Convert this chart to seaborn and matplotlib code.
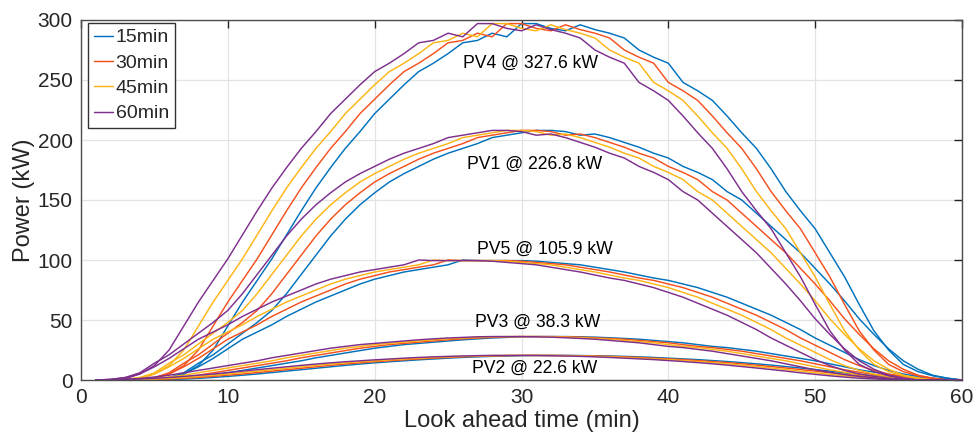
import matplotlib
matplotlib.use("Agg")
import matplotlib.pyplot as plt
import pandas as pd
import seaborn as sns

# ---------------- data ----------------
t = list(range(1, 61))
horizons = ["15min", "30min", "45min", "60min"]
colors = ["#0072BD", "#F4511E", "#FDB515", "#7E2F8E"]
plant_names = ["PV1", "PV2", "PV3", "PV4", "PV5"]
plant_caps = ["226.8", "22.6", "38.3", "327.6", "105.9"]
label_x = [30.9, 30.9, 31.1, 30.6, 31.6]
label_y = [180, 10, 48, 263.5, 109]

pv4_15 = [0,0,0,0,0.5,2,5,12,25,45, 65,83,101,121,141,160,177,193,207,222, 234,246,257,264,272,281,283,289,286,297, 297,293,291,296,292,289,285,275,269,264, 248,241,233,220,206,193,176,157,141,126, 106,86,63,41,25,13,7,3.5,1.5,0]
pv4_30 = [0,0,0,0.5,2,5,12,25,45,65, 83,101,121,141,160,177,193,207,222,234, 246,257,264,272,281,283,289,286,297,297, 293,291,296,292,289,285,275,269,264,248, 241,233,220,206,193,176,157,141,126,106, 86,63,41,25,13,7,3.5,1.5,0,0]
pv4_45 = [0,0,0.5,2,5,12,25,45,65,83, 101,121,141,160,177,193,207,222,234,246, 257,264,272,281,283,289,286,297,297,293, 291,296,292,289,285,275,269,264,248,241, 233,220,206,193,176,157,141,126,106,86, 63,41,25,13,7,3.5,1.5,0,0,0]
pv4_60 = [0,0.5,2,5,12,25,45,65,83,101, 121,141,160,177,193,207,222,234,246,257, 264,272,281,283,289,286,297,297,293,291, 296,292,289,285,275,269,264,248,241,233, 220,206,193,176,157,141,126,106,86,63, 41,25,13,7,3.5,1.5,0,0,0,0]

pv1_15 = [0,0,0,0,0.5,2,6,14,21,30, 39,48,58,72,88,104,120,134,146,156, 165,172,178,184,189,193,197,202,204,206, 208,208,207,204,205,202,198,194,189,185, 178,173,167,157,150,139,128,117,106,93, 80,66,51,38,26,16,9,4,1.5,0]
pv1_30 = [0,0,0,0.5,2,6,14,21,30,39, 48,58,72,88,104,120,134,146,156,165, 172,178,184,189,193,197,202,204,206,208, 208,207,204,205,202,198,194,189,185,178, 173,167,157,150,139,128,117,106,93,80, 66,51,38,26,16,9,4,1.5,0,0]
pv1_45 = [0,0,0.5,2,6,14,21,30,39,48, 58,72,88,104,120,134,146,156,165,172, 178,184,189,193,197,202,204,206,208,208, 207,204,205,202,198,194,189,185,178,173, 167,157,150,139,128,117,106,93,80,66, 51,38,26,16,9,4,1.5,0,0,0]
pv1_60 = [0,0.5,2,6,14,21,30,39,48,58, 72,88,104,120,134,146,156,165,172,178, 184,189,193,197,202,204,206,208,208,207, 204,205,202,198,194,189,185,178,173,167, 157,150,139,128,117,106,93,80,66,51, 38,26,16,9,4,1.5,0,0,0,0]

pv5_15 = [0,0,0,0,0.3,1,5,11,18,26, 34,40,46,53,59,65,70,75,80,84, 87,90,92,94,96,100,99.5,99.5,99.5,99.5, 99,98,97,96,94,92,90,87.5,85,83, 80,77,73,69,64,59,54,48,42,35, 29,23,17,12,8,5,3,1.5,0.7,0]
pv5_30 = [0,0,0,0.3,1,5,11,18,26,34, 40,46,53,59,65,70,75,80,84,87, 90,92,94,96,100,99.5,99.5,99.5,99.5,99, 98,97,96,94,92,90,87.5,85,83,80, 77,73,69,64,59,54,48,42,35,29, 23,17,12,8,5,3,1.5,0.7,0,0]
pv5_45 = [0,0,0.3,1,5,11,18,26,34,40, 46,53,59,65,70,75,80,84,87,90, 92,94,96,100,99.5,99.5,99.5,99.5,99,98, 97,96,94,92,90,87.5,85,83,80,77, 73,69,64,59,54,48,42,35,29,23, 17,12,8,5,3,1.5,0.7,0,0,0]
pv5_60 = [0,0.3,1,5,11,18,26,34,40,46, 53,59,65,70,75,80,84,87,90,92, 94,96,100,99.5,99.5,99.5,99.5,99,98,97, 96,94,92,90,87.5,85,83,80,77,73, 69,64,59,54,48,42,35,29,23,17, 12,8,5,3,1.5,0.7,0,0,0,0]

pv3_15 = [0,0,0,0,0.2,0.6,1.3,2.5,4,6, 8,10,12,14,16,18.5,20.5,22.5,24.5,26.5, 28,29.5,30.5,31.5,32.5,33.5,34.3,35,35.5,36, 36.2,36.2,36.2,36,35.7,35.2,34.6,34,33,32, 31,29.5,28,27,25.5,24,22,20,18,16, 13.5,11,8.5,6.5,4.5,3,1.8,1,0.4,0]
pv3_30 = [0,0,0,0.2,0.6,1.3,2.5,4,6,8, 10,12,14,16,18.5,20.5,22.5,24.5,26.5,28, 29.5,30.5,31.5,32.5,33.5,34.3,35,35.5,36,36.2, 36.2,36.2,36,35.7,35.2,34.6,34,33,32,31, 29.5,28,27,25.5,24,22,20,18,16,13.5, 11,8.5,6.5,4.5,3,1.8,1,0.4,0,0]
pv3_45 = [0,0,0.2,0.6,1.3,2.5,4,6,8,10, 12,14,16,18.5,20.5,22.5,24.5,26.5,28,29.5, 30.5,31.5,32.5,33.5,34.3,35,35.5,36,36.2,36.2, 36.2,36,35.7,35.2,34.6,34,33,32,31,29.5, 28,27,25.5,24,22,20,18,16,13.5,11, 8.5,6.5,4.5,3,1.8,1,0.4,0,0,0]
pv3_60 = [0,0.2,0.6,1.3,2.5,4,6,8,10,12, 14,16,18.5,20.5,22.5,24.5,26.5,28,29.5,30.5, 31.5,32.5,33.5,34.3,35,35.5,36,36.2,36.2,36.2, 36,35.7,35.2,34.6,34,33,32,31,29.5,28, 27,25.5,24,22,20,18,16,13.5,11,8.5, 6.5,4.5,3,1.8,1,0.4,0,0,0,0]

pv2_15 = [0,0,0,0,0.1,0.4,0.8,1.4,2.1,3, 4,5,6.2,7.4,8.6,9.8,11,12.2,13.3,14.3, 15.2,16,16.8,17.5,18.2,18.8,19.3,19.7,20,20.3, 20.5,20.5,20.5,20.4,20.2,20,19.7,19.3,18.8,18.2, 17.6,17,16.2,15.4,14.5,13.5,12.4,11.2,10,8.7, 7.4,6,4.7,3.5,2.4,1.5,0.9,0.4,0.1,0]
pv2_30 = [0,0,0,0.1,0.4,0.8,1.4,2.1,3,4, 5,6.2,7.4,8.6,9.8,11,12.2,13.3,14.3,15.2, 16,16.8,17.5,18.2,18.8,19.3,19.7,20,20.3,20.5, 20.5,20.5,20.4,20.2,20,19.7,19.3,18.8,18.2,17.6, 17,16.2,15.4,14.5,13.5,12.4,11.2,10,8.7,7.4, 6,4.7,3.5,2.4,1.5,0.9,0.4,0.1,0,0]
pv2_45 = [0,0,0.1,0.4,0.8,1.4,2.1,3,4,5, 6.2,7.4,8.6,9.8,11,12.2,13.3,14.3,15.2,16, 16.8,17.5,18.2,18.8,19.3,19.7,20,20.3,20.5,20.5, 20.5,20.4,20.2,20,19.7,19.3,18.8,18.2,17.6,17, 16.2,15.4,14.5,13.5,12.4,11.2,10,8.7,7.4,6, 4.7,3.5,2.4,1.5,0.9,0.4,0.1,0,0,0]
pv2_60 = [0,0.1,0.4,0.8,1.4,2.1,3,4,5,6.2, 7.4,8.6,9.8,11,12.2,13.3,14.3,15.2,16,16.8, 17.5,18.2,18.8,19.3,19.7,20,20.3,20.5,20.5,20.5, 20.4,20.2,20,19.7,19.3,18.8,18.2,17.6,17,16.2, 15.4,14.5,13.5,12.4,11.2,10,8.7,7.4,6,4.7, 3.5,2.4,1.5,0.9,0.4,0.1,0,0,0,0]

series = {
    "PV1": [pv1_15, pv1_30, pv1_45, pv1_60],
    "PV2": [pv2_15, pv2_30, pv2_45, pv2_60],
    "PV3": [pv3_15, pv3_30, pv3_45, pv3_60],
    "PV4": [pv4_15, pv4_30, pv4_45, pv4_60],
    "PV5": [pv5_15, pv5_30, pv5_45, pv5_60],
}

rows = []
for pv, lists in series.items():
    for h, vals in zip(horizons, lists):
        assert len(vals) == len(t), (pv, h, len(vals))
        for ti, v in zip(t, vals):
            rows.append({"t": ti, "P": v, "horizon": h, "pv": pv})
df = pd.DataFrame(rows)

# ---------------- style ----------------
sns.set_theme(style="white")
plt.rcParams['font.family'] = ['Liberation Sans', 'DejaVu Sans']
plt.rcParams['axes.edgecolor'] = '#4d4d4d'
plt.rcParams['axes.linewidth'] = 1.0

fig = plt.figure(figsize=(9.76, 4.43), dpi=100)
ax = fig.add_axes([81/976, 63/443, 881/976, 360/443])

sns.lineplot(data=df, x="t", y="P", hue="horizon", units="pv", estimator=None,
             hue_order=horizons, palette=dict(zip(horizons, colors)),
             linewidth=1.05, sort=False, ax=ax, legend=True)

ax.set_xlim(0, 60)
ax.set_ylim(0, 300)
ax.set_xticks(range(0, 61, 10))
ax.set_yticks(range(0, 301, 50))
ax.grid(True, color='#e3e3e3', linewidth=0.9)
ax.set_axisbelow(True)
for s in ax.spines.values():
    s.set_visible(True)
    s.set_color('#4d4d4d')
ax.tick_params(direction='in', length=6, width=1.0, color='#222222',
               top=True, right=True, labelsize=15, labelcolor='#262626', pad=6)
ax.set_xlabel("Look ahead time (min)", fontsize=17, color='#262626', labelpad=2)
ax.set_ylabel("Power (kW)", fontsize=17, color='#262626', labelpad=2)

for name, cap, lx, ly in zip(plant_names, plant_caps, label_x, label_y):
    ax.text(lx, ly, f"{name} @ {cap} kW", ha='center', va='center',
            fontsize=12.7, color='black')

handles, labels = ax.get_legend_handles_labels()
leg = ax.legend(handles, labels, loc='upper left', fontsize=14,
                bbox_to_anchor=(0.008, 0.992), borderaxespad=0.0,
                handlelength=1.0, handletextpad=0.12, labelspacing=0.40,
                borderpad=0.3, frameon=True, fancybox=False, framealpha=1)
leg.get_frame().set_edgecolor('#333333')
leg.get_frame().set_linewidth(1.0)

fig.savefig("out.png", dpi=100)
